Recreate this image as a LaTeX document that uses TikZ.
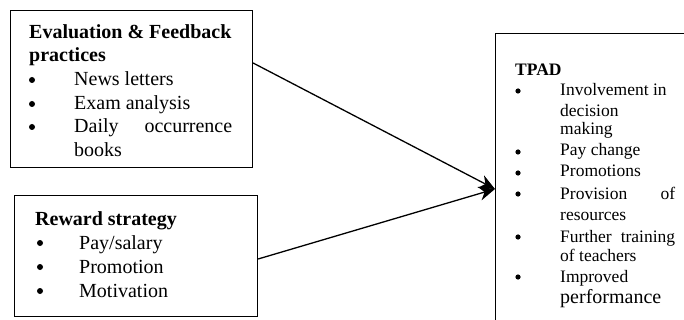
\documentclass[tikz,border=0pt]{standalone}
\usepackage{fontspec}
\setmainfont{Liberation Serif}
\usetikzlibrary{arrows.meta,calc}
\begin{document}
\begin{tikzpicture}[x=1pt,y=-1pt,
  boxframe/.style={draw=black,line width=1.1pt,inner sep=0pt,anchor=north west},
  bigtxt/.style={anchor=base west,inner sep=0pt,font=\fontsize{20}{24}\selectfont},
  bigbold/.style={anchor=base west,inner sep=0pt,font=\fontsize{20}{24}\selectfont\bfseries},
  bigdot/.style={circle,fill=black,inner sep=0pt,minimum size=6pt},
  smtxt/.style={anchor=base west,inner sep=0pt,font=\fontsize{17.5}{21}\selectfont},
  smbold/.style={anchor=base west,inner sep=0pt,font=\fontsize{17.5}{21}\selectfont\bfseries},
  smdot/.style={circle,fill=black,inner sep=0pt,minimum size=5.2pt},
  link/.style={line width=1.3pt,-{Stealth[length=16pt,width=14pt]}}
]
\path[use as bounding box] (0,0) rectangle (684,320);

% boxes
\node[boxframe,minimum width=242pt,minimum height=157pt] (evalbox) at (10,10) {};
\node[boxframe,minimum width=243pt,minimum height=121pt] (rewardbox) at (14,195) {};
\node[boxframe,minimum width=200pt,minimum height=295pt] (tpadbox) at (495,33) {};

% Evaluation & Feedback practices
\node[bigbold] (evaltitle) at (29,39) {Evaluation \& Feedback};
\node[bigbold] (evaltitleb) at (29,62) {practices};
\node[bigdot] (evalda) at (32,80) {};
\node[bigtxt] (evala) at (74,86) {News letters};
\node[bigdot] (evaldb) at (32,104) {};
\node[bigtxt] (evalb) at (74,110) {Exam analysis};
\node[bigdot] (evaldc) at (32,127) {};
\node[bigtxt] (evalc) at (74,133) {\makebox[158pt][s]{Daily occurrence}};
\node[bigtxt] (evalcb) at (74,157) {books};

% Reward strategy
\node[bigbold] (rewtitle) at (35,225) {Reward strategy};
\node[bigdot] (rewda) at (40,243) {};
\node[bigtxt] (rewa) at (79,249) {Pay/salary};
\node[bigdot] (rewdb) at (40,267) {};
\node[bigtxt] (rewb) at (79,273) {Promotion};
\node[bigdot] (rewdc) at (40,291) {};
\node[bigtxt] (rewc) at (79,297) {Motivation};

% TPAD
\node[smbold] (tpadtitle) at (515,76) {TPAD};
\node[smdot] (tpadda) at (518,91) {};
\node[smtxt] (tpada) at (560,96) {Involvement in};
\node[smtxt] (tpadab) at (560,117) {decision};
\node[smtxt] (tpadac) at (560,135) {making};
\node[smdot] (tpaddb) at (518,152) {};
\node[smtxt] (tpadb) at (560,156) {Pay change};
\node[smdot] (tpaddc) at (518,173) {};
\node[smtxt] (tpadc) at (560,177) {Promotions};
\node[smdot] (tpaddd) at (518,194) {};
\node[smtxt] (tpadd) at (560,200) {\makebox[115pt][s]{Provision of}};
\node[smtxt] (tpaddb2) at (560,220) {resources};
\node[smdot] (tpadde) at (518,237) {};
\node[smtxt] (tpade) at (560,242) {\makebox[115pt][s]{Further training}};
\node[smtxt] (tpadeb) at (560,261) {of teachers};
\node[smdot] (tpaddf) at (518,277) {};
\node[smtxt] (tpadf) at (560,282) {Improved};
\node[bigtxt] (tpadfb) at (560,303) {performance};

% connectors
\coordinate (evalout) at ($(evalbox.north east)+(0,53)$);
\coordinate (rewardout) at ($(rewardbox.north east)+(0,64)$);
\coordinate (tip) at ($(tpadbox.north west)+(0,156)$);
\draw[link] (evalout) -- (tip);
\draw[link] (rewardout) -- (tip);
\end{tikzpicture}
\end{document}
